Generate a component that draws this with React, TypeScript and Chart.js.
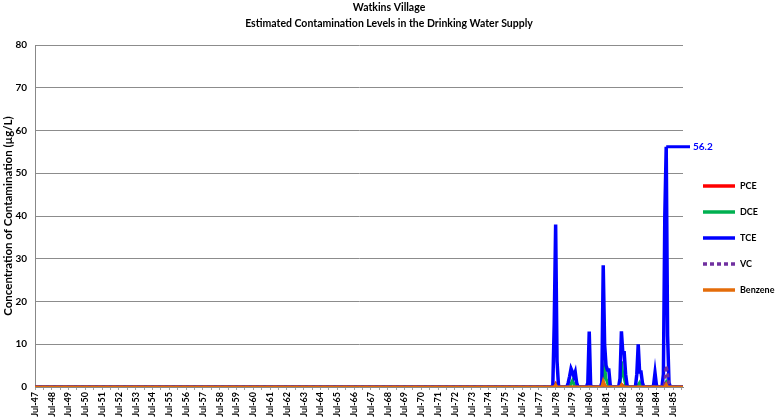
import React, { useEffect, useRef } from 'react';
import { Chart, registerables } from 'chart.js';

Chart.register(...registerables);

// ---- Data ----
const MONTH_NAMES = ['Jan', 'Feb', 'Mar', 'Apr', 'May', 'Jun', 'Jul', 'Aug', 'Sep', 'Oct', 'Nov', 'Dec'];
const FIRST_MONTH = { year: 1947, month: 6 }; // Jul-47
const LAST_MONTH = { year: 1986, month: 1 }; // Feb-86

const TITLE_LINES = ['Watkins Village', 'Estimated Contamination Levels in the Drinking Water Supply'];
const Y_TITLE = 'Concentration of Contamination (µg/L)';
const Y_MIN = 0;
const Y_MAX = 80;
const Y_STEP = 10;

// Non-zero stretches of each series (all other months read as 0)
const pceMonths = ['Jun-78', 'Jul-78', 'Aug-78', 'May-81', 'Jun-81', 'Jun-82', 'Jul-82', 'Feb-85', 'Mar-85'];
const pceValues = [0.3, 0.8, 0.2, 1.2, 0.4, 0.6, 0.3, 0.8, 0.3];

const dceMonths = ['Jul-78', 'Jun-79', 'Jul-79', 'Aug-79', 'May-81', 'Jun-81', 'Jul-81', 'Aug-81', 'Jun-82', 'Jul-82', 'Aug-82', 'Sep-82', 'Jun-83', 'Jul-83', 'Feb-85'];
const dceValues = [0.5, 0.8, 1.5, 0.8, 2, 5, 2, 1, 6, 3, 2, 0.5, 0.5, 1, 1];

const tceMonths = [
  'May-78', 'Jun-78', 'Jul-78', 'Aug-78', 'Sep-78',
  'Apr-79', 'May-79', 'Jun-79', 'Jul-79', 'Aug-79', 'Sep-79', 'Oct-79',
  'Jun-80', 'Jul-80', 'Aug-80',
  'Apr-81', 'May-81', 'Jun-81', 'Jul-81', 'Aug-81', 'Sep-81', 'Oct-81',
  'May-82', 'Jun-82', 'Jul-82', 'Aug-82', 'Sep-82', 'Oct-82',
  'May-83', 'Jun-83', 'Jul-83', 'Aug-83', 'Sep-83',
  'May-84', 'Jun-84', 'Jul-84',
  'Dec-84', 'Jan-85', 'Feb-85', 'Mar-85', 'Apr-85',
];
const tceValues = [
  0.5, 15, 38, 6, 0.5,
  1, 2.5, 4.3, 3.5, 2.5, 3.5, 1,
  1, 13, 0.5,
  1, 28.5, 10, 5, 4, 4, 0.5,
  2, 13, 8, 8, 3, 0.5,
  3, 10, 3.5, 3.5, 1,
  0.5, 3.3, 0.5,
  3, 40, 56.2, 12, 1,
];

const vcMonths = ['Jan-85', 'Feb-85', 'Mar-85', 'Apr-85'];
const vcValues = [1, 5, 3.3, 0.5];

const benzeneMonths = ['Jul-78', 'May-81', 'Jun-81', 'Jun-82', 'Feb-85'];
const benzeneValues = [0.5, 1.3, 0.4, 0.5, 0.6];

const SERIES_NAMES = ['PCE', 'DCE', 'TCE', 'VC', 'Benzene'];
const SERIES_COLORS = ['#FF0000', '#00B050', '#0000FF', '#7030A0', '#E46C0A'];

// ---- Helpers ----
function buildCategories(): string[] {
  const out: string[] = [];
  let y = FIRST_MONTH.year;
  let m = FIRST_MONTH.month;
  while (y < LAST_MONTH.year || (y === LAST_MONTH.year && m <= LAST_MONTH.month)) {
    out.push(`${MONTH_NAMES[m]}-${String(y % 100).padStart(2, '0')}`);
    m++;
    if (m > 11) { m = 0; y++; }
  }
  return out;
}
const categories = buildCategories();

function fullSeries(months: string[], values: number[]): number[] {
  return categories.map((c) => {
    const i = months.indexOf(c);
    return i >= 0 ? values[i] : 0;
  });
}

const FONT = 'Lato, "Open Sans", sans-serif';

const titlePlugin = {
  id: 'twoLineTitle',
  afterDraw(chart: any) {
    const ctx = chart.ctx;
    ctx.save();
    ctx.fillStyle = '#000';
    ctx.font = `bold 10.5px ${FONT}`;
    ctx.textAlign = 'center';
    ctx.textBaseline = 'middle';
    TITLE_LINES.forEach((t, i) => ctx.fillText(t, chart.width / 2, 8 + i * 16));
    ctx.restore();
  },
};

const legendPlugin = {
  id: 'lineLegend',
  afterDraw(chart: any) {
    const ctx = chart.ctx;
    const x0 = chart.chartArea.right + 20;
    const top = 186;
    const gap = 26;
    ctx.save();
    chart.data.datasets.forEach((ds: any, i: number) => {
      const y = top + i * gap;
      ctx.strokeStyle = ds.borderColor;
      ctx.lineWidth = 3.5;
      ctx.setLineDash(ds.borderDash || []);
      ctx.beginPath();
      ctx.moveTo(x0, y);
      ctx.lineTo(x0 + 32, y);
      ctx.stroke();
      ctx.setLineDash([]);
      ctx.fillStyle = '#000';
      ctx.font = `bold 9px ${FONT}`;
      ctx.textAlign = 'left';
      ctx.textBaseline = 'middle';
      ctx.fillText(ds.label, x0 + 37, y);
    });
    ctx.restore();
  },
};

const maxLabelPlugin = {
  id: 'maxLabel',
  afterDraw(chart: any) {
    const di = SERIES_NAMES.indexOf('TCE');
    const data: number[] = chart.data.datasets[di].data;
    let maxI = 0;
    data.forEach((v, i) => { if (v > data[maxI]) maxI = i; });
    const xs = chart.scales.x;
    const ys = chart.scales.y;
    const x1 = xs.getPixelForValue(maxI);
    const y = ys.getPixelForValue(data[maxI]);
    const x2 = chart.chartArea.right + 7;
    const ctx = chart.ctx;
    ctx.save();
    ctx.strokeStyle = SERIES_COLORS[di];
    ctx.lineWidth = 3;
    ctx.beginPath();
    ctx.moveTo(x1, y);
    ctx.lineTo(x2, y);
    ctx.stroke();
    ctx.fillStyle = SERIES_COLORS[di];
    ctx.font = `bold 10px ${FONT}`;
    ctx.textAlign = 'left';
    ctx.textBaseline = 'middle';
    ctx.fillText(String(data[maxI]), x2 + 3, y);
    ctx.restore();
  },
};

export default function App() {
  const canvasRef = useRef<HTMLCanvasElement | null>(null);

  useEffect(() => {
    document.body.style.margin = '0';
    const canvas = canvasRef.current;
    if (!canvas) return;

    const seriesData = [
      fullSeries(pceMonths, pceValues),
      fullSeries(dceMonths, dceValues),
      fullSeries(tceMonths, tceValues),
      fullSeries(vcMonths, vcValues),
      fullSeries(benzeneMonths, benzeneValues),
    ];

    const chart = new Chart(canvas, {
      type: 'line',
      data: {
        labels: categories,
        datasets: SERIES_NAMES.map((name, i) => ({
          label: name,
          data: seriesData[i],
          borderColor: SERIES_COLORS[i],
          backgroundColor: SERIES_COLORS[i],
          borderWidth: name === 'TCE' ? 3.5 : 3,
          borderDash: name === 'VC' ? [4, 3] : [],
          pointRadius: 0,
          tension: 0,
          fill: false,
          order: SERIES_NAMES.length - i,
        })),
      },
      options: {
        responsive: false,
        animation: false,
        layout: { padding: { top: 45, right: 95, left: 0, bottom: 0 } },
        plugins: {
          legend: { display: false },
          title: { display: false },
          tooltip: { enabled: false },
        },
        scales: {
          x: {
            type: 'category',
            offset: false,
            afterFit: (s: any) => { s.height = 33; },
            grid: {
              display: true,
              drawOnChartArea: false,
              drawTicks: true,
              tickLength: 3,
              color: (c: any) => (c.index % 6 === 0 ? '#A0A0A0' : 'rgba(0,0,0,0)'),
            },
            border: { display: true, color: '#888' },
            ticks: {
              autoSkip: false,
              maxRotation: 90,
              minRotation: 90,
              padding: 2,
              color: '#000',
              font: { family: FONT, size: 9, weight: 'bold' },
              callback: function (this: any, _v: any, idx: number) {
                const lab = categories[idx];
                return lab.startsWith('Jul') ? lab : '';
              },
            },
          },
          y: {
            min: Y_MIN,
            max: Y_MAX,
            afterFit: (s: any) => { s.width = 35; },
            ticks: {
              stepSize: Y_STEP,
              padding: 8,
              color: '#000',
              font: { family: FONT, size: 10, weight: 'bold' },
            },
            grid: { color: '#8C8C8C', lineWidth: 1, drawTicks: false },
            border: { display: true, color: '#888' },
            title: {
              display: true,
              text: Y_TITLE,
              color: '#000',
              padding: { top: 1, bottom: 0 },
              font: { family: FONT, size: 11.5, weight: 'bold' },
            },
          },
        },
      },
      plugins: [titlePlugin, legendPlugin, maxLabelPlugin],
    });

    return () => chart.destroy();
  }, []);

  return (
    <div style={{ width: 778, height: 420, position: 'relative', background: '#fff' }}>
      <canvas ref={canvasRef} width={778} height={420} style={{ display: 'block' }} />
    </div>
  );
}
